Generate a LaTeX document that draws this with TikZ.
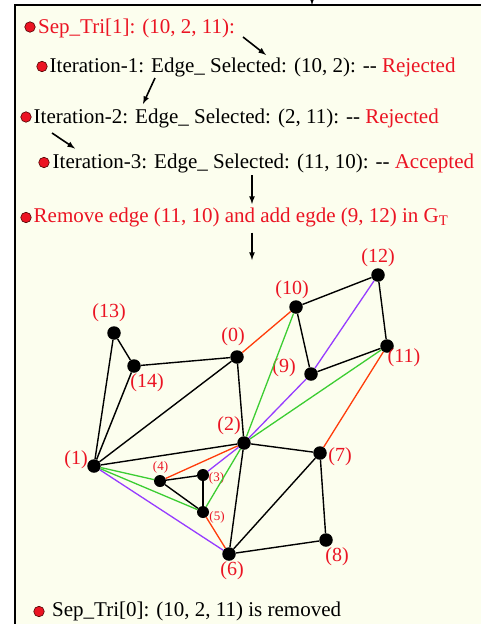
\documentclass[tikz,border=0pt]{standalone}
\usepackage{fontspec}
\setmainfont{Liberation Serif}
\usepackage{xcolor}
\usetikzlibrary{arrows}
\definecolor{cream}{RGB}{252,254,238}
\definecolor{txtred}{RGB}{235,20,35}
\definecolor{edgered}{RGB}{255,60,10}
\definecolor{edgegreen}{RGB}{60,205,50}
\definecolor{edgepurple}{RGB}{150,60,255}

\begin{document}
\begin{tikzpicture}[x=1pt,y=-1pt,
  vert/.style={circle,fill=black,inner sep=0pt,minimum size=13.5pt},
  vsmall/.style={circle,fill=black,inner sep=0pt,minimum size=12pt},
  bul/.style={circle,fill=txtred,draw=black!70!red,line width=0.6pt,inner sep=0pt,minimum size=10.5pt},
  line/.style={anchor=base west,inner sep=0pt,font=\fontsize{21}{21}\selectfont},
  lbl/.style={inner sep=0pt,text=txtred,font=\fontsize{20}{20}\selectfont},
  lbls/.style={inner sep=0pt,text=txtred,font=\fontsize{13}{13}\selectfont},
  flow/.style={-latex,line width=1.6pt},
  blk/.style={line width=1.4pt},
  col/.style={line width=1.3pt}
]
\useasboundingbox (0,0) rectangle (480,624);
\fill[white] (0,0) rectangle (480,624);
\filldraw[fill=cream,line width=2pt] (15,5) rectangle (482,640);

% arrow coming in from above
\coordinate (topin) at (312,-15);
\coordinate (toptip) at (312,5);
\draw[flow] (topin) -- (toptip);

% the text lines
\node[bul] (b1) at (30,27) {};
\node[line,text=txtred] (t1) at (38,33.5) {Sep\_Tri[1]: (10, 2, 11):};
\node[bul] (b2) at (42,66.5) {};
\node[line] (t2) at (49.5,72.5) {Iteration-1: Edge\_ Selected: (10, 2): -{}- \textcolor{txtred}{Rejected}};
\node[bul] (b3) at (26,117) {};
\node[line] (t3) at (33.5,123.5) {Iteration-2: Edge\_ Selected: (2, 11): -{}- \textcolor{txtred}{Rejected}};
\node[bul] (b4) at (44,162.5) {};
\node[line] (t4) at (52.5,168.5) {Iteration-3: Edge\_ Selected: (11, 10): -{}- \textcolor{txtred}{Accepted}};
\node[bul] (b5) at (26,217.5) {};
\node[line,text=txtred] (t5) at (33.5,222) {Remove edge (11, 10) and add egde (9, 12) in G\textsubscript{T}};
\node[bul] (b6) at (39,611.5) {};
\node[line] (t6) at (52,616.5) {Sep\_Tri[0]: (10, 2, 11) is removed};

\coordinate (a1s) at (243,37);
\coordinate (a1e) at (266,55);
\coordinate (a2s) at (155,78);
\coordinate (a2e) at (143,104);
\coordinate (a3s) at (52,133);
\coordinate (a3e) at (75,148.5);
\coordinate (a4s) at (252,175);
\coordinate (a4e) at (252,204);
\coordinate (a5s) at (252,232.5);
\coordinate (a5e) at (252,260);
\foreach \s/\e in {a1s/a1e,a2s/a2e,a3s/a3e,a4s/a4e,a5s/a5e}
  \draw[flow] (\s) -- (\e);

% the graph
\node[vert] (n0) at (237,357) {};
\node[vert] (n1) at (94,466) {};
\node[vert] (n2) at (244,443) {};
\node[vsmall] (n3) at (203,475) {};
\node[vsmall] (n4) at (160,481) {};
\node[vsmall] (n5) at (203,512) {};
\node[vert] (n6) at (229,554) {};
\node[vert] (n7) at (320,453) {};
\node[vert] (n8) at (326,540) {};
\node[vert] (n9) at (311,374) {};
\node[vert] (n10) at (296,307) {};
\node[vert] (n11) at (387,346) {};
\node[vert] (n12) at (378,275) {};
\node[vert] (n13) at (114,333) {};
\node[vert] (n14) at (134,366) {};

\node[lbl] (l0) at (233,337) {(0)};
\node[lbl] (l1) at (76,460) {(1)};
\node[lbl] (l2) at (229,426) {(2)};
\node[lbls] (l3) at (216.5,478) {(3)};
\node[lbls] (l4) at (160.5,467) {(4)};
\node[lbls] (l5) at (217,517) {(5)};
\node[lbl] (l6) at (232,571) {(6)};
\node[lbl] (l7) at (340,457) {(7)};
\node[lbl] (l8) at (337,557) {(8)};
\node[lbl] (l9) at (284,368) {(9)};
\node[lbl] (l10) at (292,290) {(10)};
\node[lbl] (l11) at (404,358) {(11)};
\node[lbl] (l12) at (378,258) {(12)};
\node[lbl] (l13) at (109,313) {(13)};
\node[lbl] (l14) at (147,383) {(14)};

\foreach \a/\b in {n13/n14,n13/n1,n14/n1,n14/n0,n0/n1,n0/n2,n10/n12,n12/n11,n10/n9,n9/n11,
                   n1/n2,n2/n7,n2/n6,n7/n6,n7/n8,n8/n6,n4/n3,n3/n5,n4/n5}
  \draw[blk] (\a) -- (\b);
\foreach \a/\b in {n0/n10,n11/n7,n4/n2,n5/n6}
  \draw[col,edgered] (\a) -- (\b);
\foreach \a/\b in {n10/n2,n11/n2,n1/n4,n1/n5,n5/n2}
  \draw[col,edgegreen] (\a) -- (\b);
\foreach \a/\b in {n12/n9,n9/n2,n3/n2,n1/n6}
  \draw[col,edgepurple] (\a) -- (\b);
\end{tikzpicture}
\end{document}
